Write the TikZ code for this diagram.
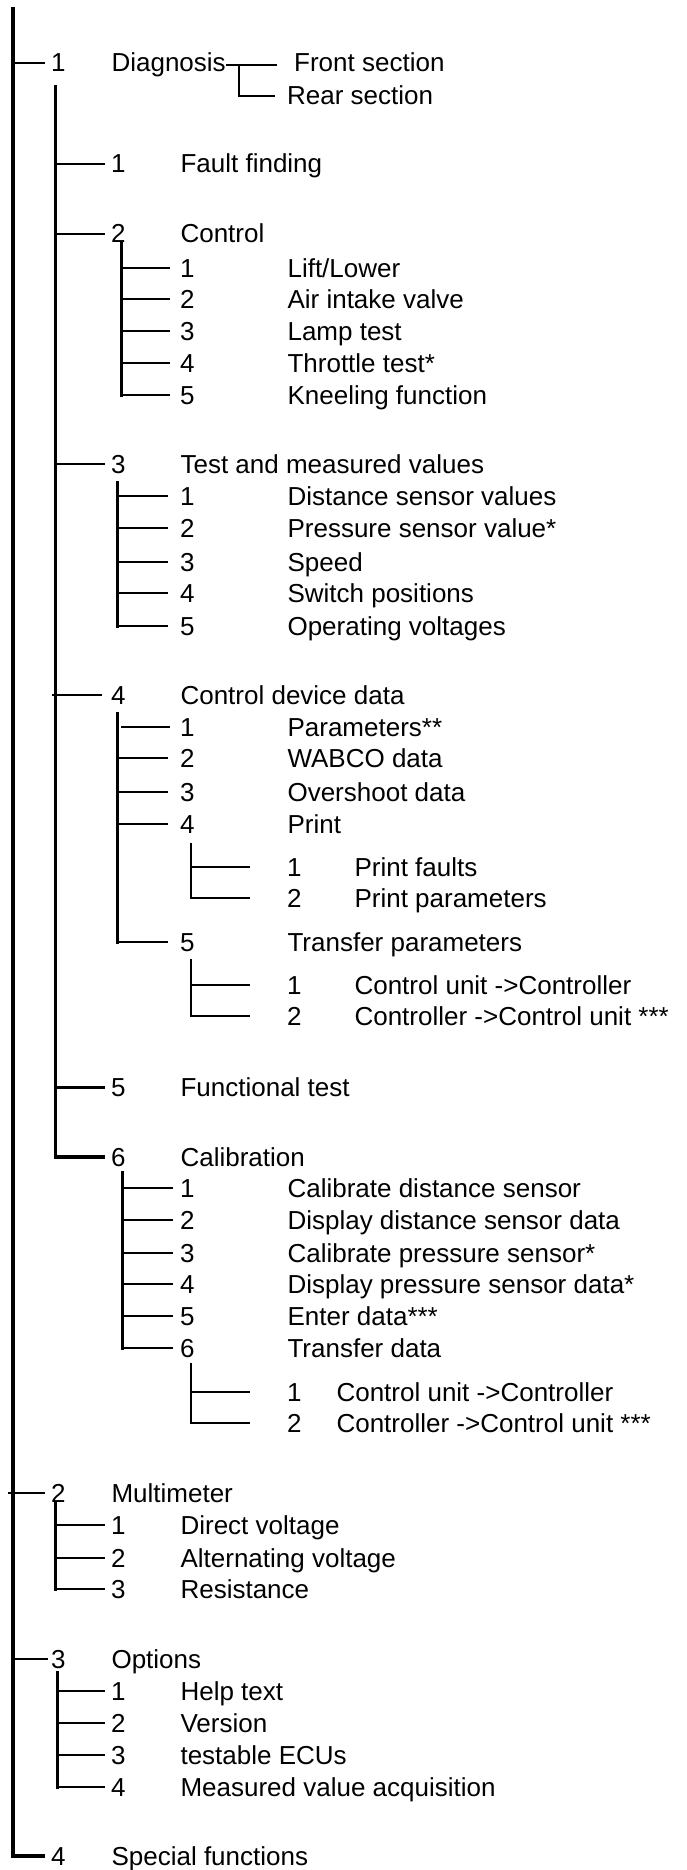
\documentclass[tikz,border=0pt]{standalone}
\usepackage{fontspec}
\setmainfont{Liberation Sans}
\usetikzlibrary{positioning}

\begin{document}
\begin{tikzpicture}[
    x=1pt, y=-1pt,
    font=\fontsize{26}{31}\selectfont,
    every node/.style={inner sep=0pt},
    num/.style={anchor=base west},
    lab0/.style={base right=45.5pt of #1},
    lab1/.style={base right=54.5pt of #1},
    lab2/.style={base right=92.5pt of #1},
    lab3/.style={base right=52.5pt of #1},
    lab4/.style={base right=34.5pt of #1},
    trunk/.style={line width=3.4pt},
    stem/.style={line width=3pt, line cap=rect},
    twig/.style={line width=2.8pt},
    leaf/.style={line width=2.4pt},
    sprig/.style={line width=2pt},
]
\useasboundingbox (0,0) rectangle (686,1870);

% main menu
\coordinate (root) at (13,7);
\node[num] (n1) at (51,72) {1};
\node[lab0=n1] (diag) {Diagnosis};
\node[num] (front) at (294,72) {Front section};
\node[num] (rear) at (287,105) {Rear section};
\node[num] (n2) at (51,1502) {2};
\node[lab0=n2] (multi) {Multimeter};
\node[num] (n3) at (51,1668) {3};
\node[lab0=n3] (opts) {Options};
\node[num] (n4) at (51,1865) {4};
\node[lab0=n4] (spec) {Special functions};

% diagnosis
\node[num] (a1) at (111,173) {1};
\node[lab1=a1] (fault) {Fault finding};
\node[num] (a2) at (111,243) {2};
\node[lab1=a2] (ctrl) {Control};
\node[num] (a3) at (111,473) {3};
\node[lab1=a3] (test) {Test and measured values};
\node[num] (a4) at (111,704) {4};
\node[lab1=a4] (cdd) {Control device data};
\node[num] (a5) at (111,1096) {5};
\node[lab1=a5] (func) {Functional test};
\node[num] (a6) at (111,1166) {6};
\node[lab1=a6] (calib) {Calibration};

% control
\node[num] (b1) at (180,277) {1};
\node[lab2=b1] {Lift/Lower};
\node[num] (b2) at (180,308) {2};
\node[lab2=b2] {Air intake valve};
\node[num] (b3) at (180,340) {3};
\node[lab2=b3] {Lamp test};
\node[num] (b4) at (180,372) {4};
\node[lab2=b4] {Throttle test*};
\node[num] (b5) at (180,404) {5};
\node[lab2=b5] {Kneeling function};

% test and measured values
\node[num] (c1) at (180,505) {1};
\node[lab2=c1] {Distance sensor values};
\node[num] (c2) at (180,537) {2};
\node[lab2=c2] {Pressure sensor value*};
\node[num] (c3) at (180,571) {3};
\node[lab2=c3] {Speed};
\node[num] (c4) at (180,602) {4};
\node[lab2=c4] {Switch positions};
\node[num] (c5) at (180,635) {5};
\node[lab2=c5] {Operating voltages};

% control device data
\node[num] (e1) at (180,736) {1};
\node[lab2=e1] {Parameters**};
\node[num] (e2) at (180,767) {2};
\node[lab2=e2] {WABCO data};
\node[num] (e3) at (180,801) {3};
\node[lab2=e3] {Overshoot data};
\node[num] (e4) at (180,833) {4};
\node[lab2=e4] (print) {Print};
\node[num] (p1) at (287,876) {1};
\node[lab3=p1] {Print faults};
\node[num] (p2) at (287,907) {2};
\node[lab3=p2] {Print parameters};
\node[num] (e5) at (180,951) {5};
\node[lab2=e5] (xfer) {Transfer parameters};
\node[num] (q1) at (287,994) {1};
\node[lab3=q1] {Control unit ->Controller};
\node[num] (q2) at (287,1025) {2};
\node[lab3=q2] {Controller ->Control unit ***};

% calibration
\node[num] (f1) at (180,1197) {1};
\node[lab2=f1] {Calibrate distance sensor};
\node[num] (f2) at (180,1229) {2};
\node[lab2=f2] {Display distance sensor data};
\node[num] (f3) at (180,1262) {3};
\node[lab2=f3] {Calibrate pressure sensor*};
\node[num] (f4) at (180,1293) {4};
\node[lab2=f4] {Display pressure sensor data*};
\node[num] (f5) at (180,1325) {5};
\node[lab2=f5] {Enter data***};
\node[num] (f6) at (180,1357) {6};
\node[lab2=f6] (xdata) {Transfer data};
\node[num] (g1) at (287,1401) {1};
\node[lab4=g1] {Control unit ->Controller};
\node[num] (g2) at (287,1432) {2};
\node[lab4=g2] {Controller ->Control unit ***};

% multimeter
\node[num] (m1) at (111,1534) {1};
\node[lab1=m1] {Direct voltage};
\node[num] (m2) at (111,1567) {2};
\node[lab1=m2] {Alternating voltage};
\node[num] (m3) at (111,1598) {3};
\node[lab1=m3] {Resistance};

% options
\node[num] (o1) at (111,1700) {1};
\node[lab1=o1] {Help text};
\node[num] (o2) at (111,1732) {2};
\node[lab1=o2] {Version};
\node[num] (o3) at (111,1764) {3};
\node[lab1=o3] {testable ECUs};
\node[num] (o4) at (111,1796) {4};
\node[lab1=o4] {Measured value acquisition};

% trunk tops
\coordinate (dtop) at ([xshift=-3pt,yshift=-13pt]n1.south);
\coordinate (btop) at ([xshift=3pt]a2.south);
\coordinate (ctop) at ([xshift=-1pt,yshift=-9pt]a3.south);
\coordinate (etop) at ([xshift=-1pt,yshift=-9pt]a4.south);
\coordinate (ptop) at ([xshift=4pt,yshift=-10pt]e4.south);
\coordinate (qtop) at ([xshift=4pt,yshift=-8pt]e5.south);
\coordinate (ftop) at ([xshift=4pt,yshift=-6pt]a6.south);
\coordinate (gtop) at ([xshift=4pt,yshift=-6pt]f6.south);
\coordinate (mtop) at ([xshift=-3pt,yshift=-1pt]n2.south);
\coordinate (otop) at ([xshift=-1pt,yshift=-4pt]n3.south);
\coordinate (fs) at ([xshift=-17pt]front.west);

% main menu lines
\draw[trunk] (root) |- ([xshift=-6pt]n4.west);
\draw[twig] (root |- n1.west) -- ([xshift=-6pt]n1.west);
\draw[twig] ([xshift=-5pt]root |- n2.west) -- ([xshift=-6pt]n2.west);
\draw[twig] (root |- n3.west) -- ([xshift=-3pt]n3.west);
\draw[sprig] (diag.east) -- (diag.east -| fs);
\draw[sprig] ([xshift=13pt]diag.east) |- ([xshift=-12pt]rear.west);

% diagnosis lines
\draw[trunk] (dtop) |- ([xshift=-6pt]a6.west);
\draw[twig] (dtop |- a1.west) -- ([xshift=-6pt]a1.west);
\draw[twig] (dtop |- a2.west) -- ([xshift=-6pt]a2.west);
\draw[twig] (dtop |- a3.west) -- ([xshift=-6pt]a3.west);
\draw[twig] ([xshift=-3pt]dtop |- a4.west) -- ([xshift=-9pt]a4.west);
\draw[twig] (dtop |- a5.west) -- ([xshift=-6pt]a5.west);

\draw[stem] (btop) -- (btop |- b5.west);
\foreach \k in {b1,b2,b3,b4,b5}
  \draw[leaf] (btop |- \k.west) -- ([xshift=-10pt]\k.west);

\draw[stem] (ctop) -- (ctop |- c5.west);
\foreach \k in {c1,c2,c3,c4,c5}
  \draw[leaf] (ctop |- \k.west) -- ([xshift=-12pt]\k.west);

\draw[stem] (etop) -- (etop |- e5.west);
\draw[leaf] ([xshift=4pt]etop |- e1.west) -- ([xshift=-10pt]e1.west);
\foreach \k in {e2,e3,e4,e5}
  \draw[leaf] (etop |- \k.west) -- ([xshift=-12pt]\k.west);

\draw[sprig] (ptop) |- ([xshift=-37pt]p2.west);
\draw[sprig] (ptop |- p1.west) -- ([xshift=-37pt]p1.west);
\draw[sprig] (qtop) |- ([xshift=-37pt]q2.west);
\draw[sprig] (qtop |- q1.west) -- ([xshift=-37pt]q1.west);

\draw[stem] (ftop) -- (ftop |- f6.west);
\foreach \k in {f1,f2,f3,f4,f5,f6}
  \draw[leaf] (ftop |- \k.west) -- ([xshift=-7pt]\k.west);

\draw[sprig] (gtop) |- ([xshift=-37pt]g2.west);
\draw[sprig] (gtop |- g1.west) -- ([xshift=-37pt]g1.west);

% multimeter and options lines
\draw[stem] (mtop) -- (mtop |- m3.west);
\foreach \k in {m1,m2,m3}
  \draw[leaf] (mtop |- \k.west) -- ([xshift=-6pt]\k.west);

\draw[stem] (otop) -- (otop |- o4.west);
\foreach \k in {o1,o2,o3,o4}
  \draw[leaf] (otop |- \k.west) -- ([xshift=-6pt]\k.west);
\end{tikzpicture}
\end{document}
